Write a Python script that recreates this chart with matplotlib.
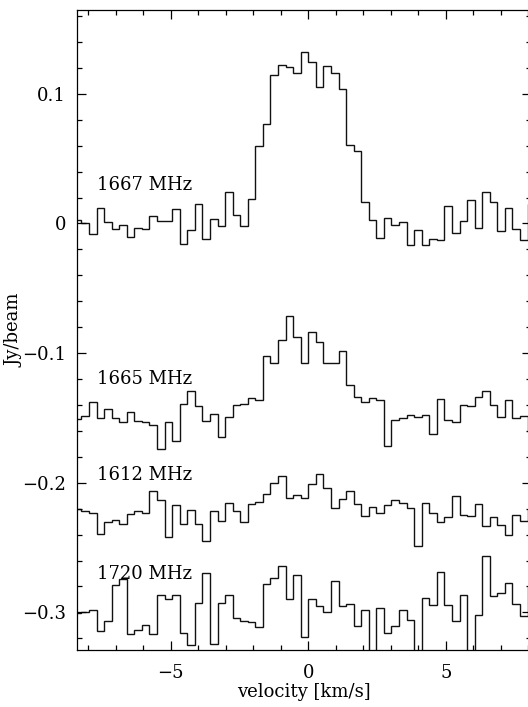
import numpy as np
import matplotlib.pyplot as plt
from matplotlib.ticker import MultipleLocator, FuncFormatter

plt.rcParams['font.family'] = ['DejaVu Serif']
plt.rcParams['font.size'] = 13

# channel grid: 0.275 km/s channels, edges on multiples of the width
chan_width = 0.275
edges = chan_width * np.arange(-31, 31)

# flux density per channel [Jy/beam], before vertical offset
oh1667 = [0.0025, 0.0005, -0.0083, 0.0123, 0.0013, -0.0044, -0.0013, -0.0108,
          -0.0034, -0.0044, 0.0059, 0.0020, 0.0020, 0.0113, -0.0162, -0.0052,
          0.0151, -0.0116, 0.0036, -0.0018, 0.0239, 0.0064, -0.0018, 0.0188,
          0.0599, 0.0769, 0.1144, 0.1219, 0.1206, 0.1162, 0.1324, 0.1247,
          0.1049, 0.1216, 0.1162, 0.1034, 0.0604, 0.0560, 0.0167, 0.0023,
          -0.0113, 0.0043, -0.0013, 0.0012, -0.0165, -0.0052, -0.0165, -0.0121,
          -0.0129, 0.0131, -0.0077, 0.0020, 0.0182, -0.0036, 0.0244, 0.0162,
          -0.0057, 0.0123, -0.0046, -0.0129, 0.0154]
oh1665 = [-0.0005, 0.0015, 0.0123, 0.0003, 0.0067, 0.0003, -0.0035, 0.0046,
          -0.0023, -0.0031, -0.0051, -0.0242, -0.0031, -0.0177, 0.0111, 0.0204,
          0.0090, -0.0025, 0.0034, -0.0147, 0.0008, 0.0103, 0.0111, 0.0157,
          0.0142, 0.0478, 0.0424, 0.0600, 0.0787, 0.0625, 0.0420, 0.0664,
          0.0584, 0.0427, 0.0427, 0.0515, 0.0252, 0.0162, 0.0121, 0.0152,
          0.0142, -0.0218, -0.0018, 0.0003, 0.0023, 0.0005, 0.0023, -0.0123,
          0.0144, -0.0018, -0.0031, 0.0100, 0.0090, 0.0162, 0.0208, 0.0103,
          0.0008, 0.0137, 0.0003, 0.0013, -0.0108]
oh1612 = [-0.0005, -0.0020, -0.0030, -0.0192, -0.0103, -0.0084, -0.0120, -0.0038,
          -0.0020, -0.0030, 0.0137, 0.0070, -0.0218, 0.0026, -0.0115, -0.0012,
          -0.0120, -0.0252, -0.0018, -0.0095, 0.0044, -0.0020, -0.0103, 0.0039,
          0.0052, 0.0111, 0.0201, 0.0252, 0.0083, 0.0103, 0.0086, 0.0188,
          0.0271, 0.0157, 0.0005, 0.0075, 0.0137, 0.0039, -0.0056, 0.0013,
          -0.0033, 0.0026, 0.0070, 0.0044, 0.0005, -0.0288, 0.0042, -0.0030,
          -0.0100, -0.0064, 0.0098, -0.0051, -0.0059, 0.0034, -0.0136, -0.0064,
          -0.0128, -0.0205, -0.0049, -0.0092, 0.0001]
oh1720 = [-0.0002, 0.0003, 0.0022, -0.0146, -0.0066, 0.0215, 0.0261, -0.0169,
          -0.0138, -0.0097, -0.0164, 0.0134, 0.0106, 0.0134, -0.0159, -0.0254,
          0.0073, 0.0304, -0.0246, 0.0073, 0.0137, -0.0043, -0.0066, -0.0074,
          -0.0113, 0.0217, 0.0265, 0.0356, 0.0106, 0.0286, -0.0190, 0.0106,
          0.0047, 0.0003, 0.0240, 0.0047, 0.0063, -0.0105, 0.0016, -0.0450,
          0.0037, -0.0159, -0.0107, 0.0016, -0.0061, -0.0450, 0.0114, 0.0060,
          0.0312, 0.0055, -0.0069, 0.0137, -0.0450, -0.0022, 0.0435, 0.0124,
          0.0150, 0.0230, 0.0068, -0.0030, 0.0201]

spectra = [oh1667, oh1665, oh1612, oh1720]
offsets = [0.0, -0.15, -0.22, -0.30]
names = ['1667 MHz', '1665 MHz', '1612 MHz', '1720 MHz']
name_y = [0.03, -0.12, -0.194, -0.27]

fig = plt.figure(figsize=(5.28, 7.07), dpi=100)
ax = fig.add_axes([0.1464, 0.0806, 0.8593, 0.9059])

for spec, off, name, ny in zip(spectra, offsets, names, name_y):
    ax.stairs(np.array(spec) + off, edges, baseline=None, color='#111111', lw=1.0)
    ax.text(-7.7, ny, name, ha='left', va='center')

ax.set_xlim(-8.4, 8.1)
ax.set_ylim(-0.329, 0.165)

ax.xaxis.set_major_locator(MultipleLocator(5))
ax.xaxis.set_minor_locator(MultipleLocator(1))
ax.yaxis.set_major_locator(MultipleLocator(0.1))
ax.yaxis.set_minor_locator(MultipleLocator(0.02))
fmt = FuncFormatter(lambda v, p: f'{round(v, 3):g}'.replace('-', '\u2212'))
ax.xaxis.set_major_formatter(fmt)
ax.yaxis.set_major_formatter(fmt)

ax.tick_params(which='both', direction='in', top=True, right=True, width=0.9)
ax.tick_params(which='major', length=6.5)
ax.tick_params(which='minor', length=3.3)
ax.tick_params(axis='x', pad=10)
ax.tick_params(axis='y', pad=8)
for s in ax.spines.values():
    s.set_linewidth(0.9)

ax.set_xlabel('velocity [km/s]')
ax.set_ylabel('Jy/beam', va='center')
ax.xaxis.set_label_coords(0.5, -0.051)
ax.yaxis.set_label_coords(-0.1395, 0.5)

fig.savefig('out.png', dpi=100)
